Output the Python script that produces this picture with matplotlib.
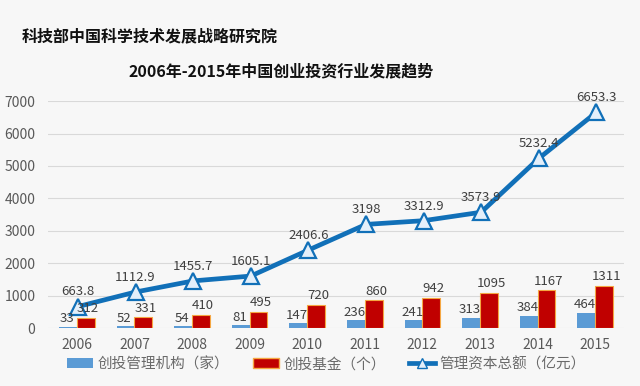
import numpy as np
import matplotlib
matplotlib.use('Agg')
import matplotlib.pyplot as plt
from matplotlib.lines import Line2D
from matplotlib.patches import Patch

plt.rcParams['font.family'] = ['Noto Sans CJK SC', 'DejaVu Sans']

years = ['2006', '2007', '2008', '2009', '2010', '2011', '2012', '2013', '2014', '2015']
institutions = [33, 52, 54, 81, 147, 236, 241, 313, 384, 464]
funds = [312, 331, 410, 495, 720, 860, 942, 1095, 1167, 1311]
capital = [663.8, 1112.9, 1455.7, 1605.1, 2406.6, 3198, 3312.9, 3573.9, 5232.4, 6653.3]
capital_labels = ['663.8', '1112.9', '1455.7', '1605.1', '2406.6', '3198', '3312.9', '3573.9', '5232.4', '6653.3']

bg = '#f7f7f7'
blue_bar = '#5b9bd5'
red_bar = '#c00000'
line_col = '#1170b8'
text_col = '#404040'

fig = plt.figure(figsize=(6.4, 3.86), dpi=100, facecolor=bg)
ax = fig.add_axes([0.075, 0.150, 0.900, 0.588], facecolor=bg)

x = np.arange(len(years))
w = 0.31
ax.bar(x - w / 2, institutions, w, color=blue_bar, zorder=2)
ax.bar(x + w / 2, funds, w, color=red_bar, edgecolor='#f5a742', linewidth=0.8, zorder=2)
ax.plot(x + 0.02, capital, color=line_col, linewidth=3.4, marker='^', markersize=11,
        markerfacecolor='#e4effa', markeredgecolor=line_col, markeredgewidth=1.6, zorder=4)

for i in range(len(years)):
    ax.text(x[i] - w / 2 - 0.02, institutions[i] + 50, str(institutions[i]), ha='center',
            va='bottom', fontsize=9.5, color=text_col, zorder=5)
    ax.text(x[i] + w / 2 + 0.04, funds[i] + 80, str(funds[i]), ha='center',
            va='bottom', fontsize=9.5, color=text_col, zorder=5)
    ax.text(x[i] + 0.02, capital[i] + 250, capital_labels[i], ha='center',
            va='bottom', fontsize=9.5, color=text_col, zorder=5)

ax.set_xlim(-0.5, len(years) - 0.5)
ax.set_ylim(0, 7000)
ax.set_yticks(range(0, 7001, 1000))
ax.set_xticks(x)
ax.set_xticklabels(years)
ax.tick_params(axis='both', length=0, labelsize=10, colors='#595959')
ax.tick_params(axis='x', pad=7)
ax.tick_params(axis='y', pad=9)
ax.grid(axis='y', color='#d9d9d9', linewidth=0.8, zorder=0)
for s in ax.spines.values():
    s.set_visible(False)

fig.text(0.034, 0.905, '科技部中国科学技术发展战略研究院', fontsize=11.5, fontweight='bold',
         color='#111111', va='center', ha='left')
fig.text(0.44, 0.815, '2006年-2015年中国创业投资行业发展趋势', fontsize=11.5, fontweight='bold',
         color='#111111', va='center', ha='center')

handles = [
    Patch(facecolor=blue_bar, label='创投管理机构（家）'),
    Patch(facecolor=red_bar, edgecolor='#f5a742', label='创投基金（个）'),
    Line2D([0], [0], color=line_col, linewidth=3.4, marker='^', markersize=7,
           markerfacecolor='#e4effa', markeredgecolor=line_col, label='管理资本总额（亿元）'),
]
fig.legend(handles=handles, loc='center', bbox_to_anchor=(0.51, 0.057), ncol=3, frameon=False,
           fontsize=10.5, labelcolor='#6a6a6a', handlelength=1.8, handleheight=0.6,
           columnspacing=1.6, handletextpad=0.3)

fig.savefig('out.png', dpi=100, facecolor=bg)
